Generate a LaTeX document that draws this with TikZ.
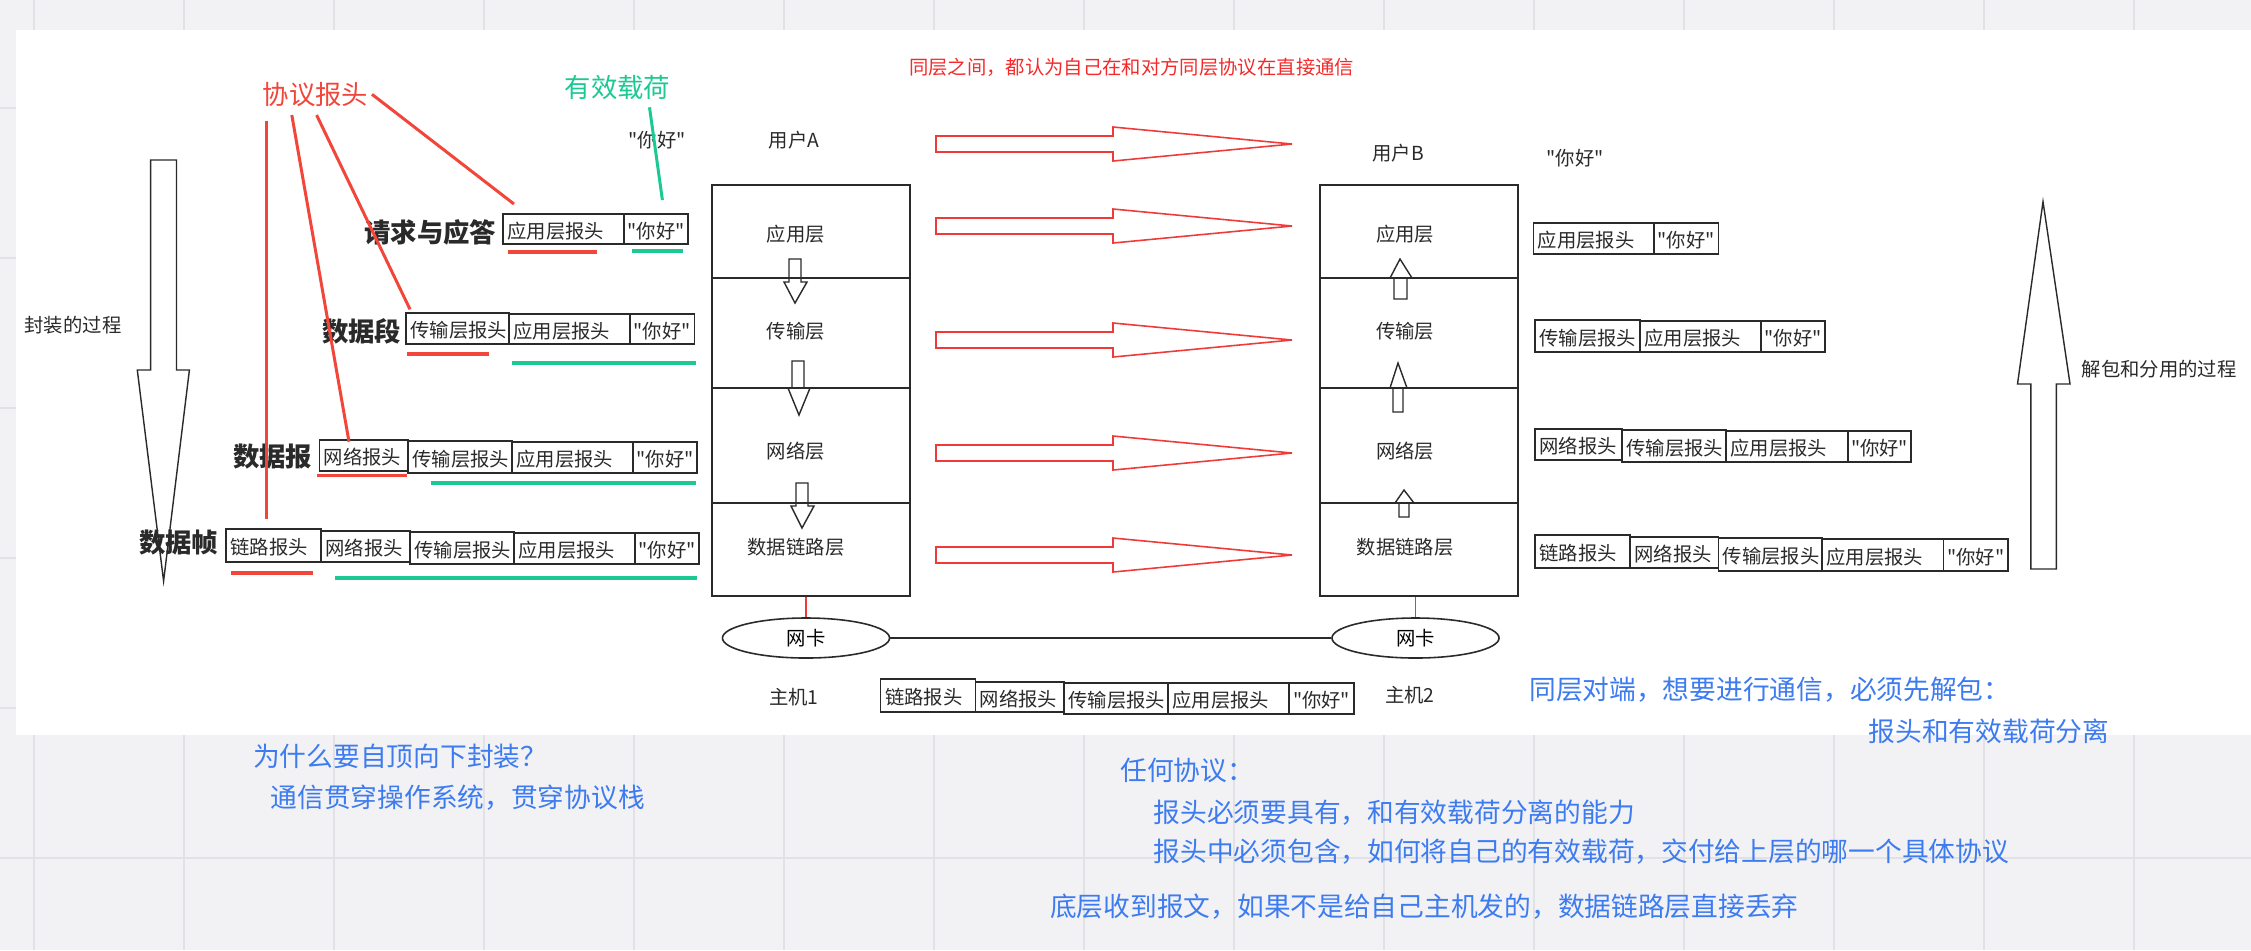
\documentclass[tikz,border=0pt]{standalone}
\usepackage{fontspec}
\newfontfamily\cjk{Noto Sans CJK SC}
\usetikzlibrary{fit,shapes.geometric}
\definecolor{bg}{HTML}{F2F2F4}
\definecolor{gridc}{HTML}{E2E2E6}
\definecolor{hdrred}{HTML}{F2463A}
\definecolor{payg}{HTML}{1CC993}
\definecolor{noteblue}{HTML}{3D7BF0}
\definecolor{titlered}{HTML}{F52A2A}
\definecolor{arrred}{HTML}{F03A3A}
\definecolor{ink}{HTML}{2A2A2A}
\tikzset{
  every node/.style={font=\cjk},
  small/.style={font=\cjk\fontsize{5.5pt}{6pt}\selectfont, inner sep=0pt, text=ink},
  rowlabel/.style={font=\cjk\bfseries\fontsize{7.5pt}{8pt}\selectfont, inner sep=0pt, text=ink, anchor=east},
  note/.style={font=\cjk\fontsize{7.6pt}{8pt}\selectfont, inner sep=0pt, text=noteblue, anchor=west},
  layerbox/.style={draw=ink, line width=0.45pt, inner sep=0pt},
  pkbox/.style={draw=ink, line width=0.45pt, inner sep=0pt},
  nic/.style={draw=ink, line width=0.45pt, ellipse, minimum width=1.67cm, minimum height=0.40cm, inner sep=0pt, font=\cjk\fontsize{5.5pt}{6pt}\selectfont},
  hollow/.style={draw=ink, line width=0.4pt},
  peer/.style={draw=arrred, line width=0.45pt},
  leader/.style={draw=hdrred, line width=0.85pt},
  redul/.style={draw=hdrred, line width=1pt},
  greenul/.style={draw=payg, line width=1pt},
}
\newcommand\hbx[6]{\node[pkbox, fit={(#2,#3)(#4,#5)}] (#1) {};
  \node[small, anchor=west] (#1t) at ([xshift=0.045cm, yshift=-0.02cm]#1.west) {#6};}
\newcommand\pbx[5]{\node[pkbox, fit={(#2,#3)(#4,#5)}] (#1) {};
  \node[small] (#1t) at ([yshift=-0.02cm]#1.center) {"你好"};}
\begin{document}
\begin{tikzpicture}[x=0.01cm,y=-0.01cm]
\useasboundingbox (0,0) rectangle (2251,950);
\fill[bg] (0,0) rectangle (2251,950);
\foreach \gx in {34,184,...,2250} \draw[gridc, line width=0.6pt] (\gx,0) -- (\gx,950);
\foreach \gy in {108,258,...,950} \draw[gridc, line width=0.6pt] (0,\gy) -- (2251,\gy);
\fill[white] (16,30) rectangle (2251,735);

% title
\node[font=\cjk\fontsize{5.5pt}{6pt}\selectfont, inner sep=0pt, text=titlered] (title) at (1131.6,67) {同层之间，都认为自己在和对方同层协议在直接通信};

% stack A
\node[layerbox, fit={(712,185)(910,278)}] (A1) {};
\node[layerbox, fit={(712,278)(910,388)}] (A2) {};
\node[layerbox, fit={(712,388)(910,503)}] (A3) {};
\node[layerbox, fit={(712,503)(910,596)}] (A4) {};
\node[small] (A1l) at (796,234) {应用层};
\node[small] (A2l) at (796,331) {传输层};
\node[small] (A3l) at (796,451) {网络层};
\node[small] (A4l) at (796,547) {数据链路层};
\node[small] (userA) at (794,140) {用户A};
\node[small] (hostA) at (794,697) {主机1};

% stack B
\node[layerbox, fit={(1320,185)(1518,278)}] (B1) {};
\node[layerbox, fit={(1320,278)(1518,388)}] (B2) {};
\node[layerbox, fit={(1320,388)(1518,503)}] (B3) {};
\node[layerbox, fit={(1320,503)(1518,596)}] (B4) {};
\node[small] (B1l) at (1405,234) {应用层};
\node[small] (B2l) at (1405,331) {传输层};
\node[small] (B3l) at (1405,451) {网络层};
\node[small] (B4l) at (1405,547) {数据链路层};
\node[small] (userB) at (1398,153) {用户B};
\node[small] (hostB) at (1410,695) {主机2};

% small down arrows in A
\draw[hollow] (789,259) -- (801,259) -- (801,282) -- (807,282) -- (795,303) -- (784,282) -- (789,282) -- cycle;
\draw[hollow] (792,361) -- (804,361) -- (804,388) -- (810,388) -- (799,415) -- (788,388) -- (792,388) -- cycle;
\draw[hollow] (796,483) -- (808,483) -- (808,506) -- (814,506) -- (802,528) -- (791,506) -- (796,506) -- cycle;
% small up arrows in B
\draw[hollow] (1394,299) -- (1394,278) -- (1390,278) -- (1400,259) -- (1412,278) -- (1407,278) -- (1407,299) -- cycle;
\draw[hollow] (1393,412) -- (1393,388) -- (1390,388) -- (1398,363) -- (1407,388) -- (1403,388) -- (1403,412) -- cycle;
\draw[hollow] (1399,517) -- (1399,503) -- (1395,503) -- (1404,490) -- (1414,503) -- (1409,503) -- (1409,517) -- cycle;

% peer arrows
\foreach \cy in {144,226,340,453,555}
  \draw[peer] (936,\cy-8) -- (1113,\cy-8) -- (1113,\cy-17) -- (1292,\cy) -- (1113,\cy+17) -- (1113,\cy+8) -- (936,\cy+8) -- cycle;

% NICs
\node[nic] (nicA) at (806,638) {网卡};
\node[nic] (nicB) at (1415.5,638) {网卡};
\draw[arrred, line width=0.4pt] (A4.south -| nicA.north) -- (nicA.north);
\draw[arrred, line width=0.4pt] (B4.south -| nicB.north) -- (nicB.north);
\draw[ink, line width=0.45pt] (nicA.east) -- (nicB.west);

% quoted payloads
\node[small] (helloA) at (657,140) {"你好"};
\node[small] (helloB) at (1575,158) {"你好"};

% left packet rows
\hbx{L1a}{503}{214}{624}{244}{应用层报头}
\pbx{L1p}{624}{214}{688}{244}
\hbx{L2a}{406}{313}{509}{344}{传输层报头}
\hbx{L2b}{509}{314}{630}{344}{应用层报头}
\pbx{L2p}{630}{314}{694.5}{344}
\hbx{L3a}{319.5}{440}{408}{471}{网络报头}
\hbx{L3b}{408}{441}{512}{473}{传输层报头}
\hbx{L3c}{512}{442}{633}{473}{应用层报头}
\pbx{L3p}{633}{442}{697}{473}
\hbx{L4a}{226}{529}{321}{562}{链路报头}
\hbx{L4b}{321}{531}{410}{562}{网络报头}
\hbx{L4c}{410}{532}{514}{564}{传输层报头}
\hbx{L4d}{514}{533}{635}{564}{应用层报头}
\pbx{L4p}{635}{533}{699}{564}

% middle packet row
\hbx{M1}{880.6}{679}{975.5}{712}{链路报头}
\hbx{M2}{975.5}{682}{1064}{712}{网络报头}
\hbx{M3}{1064}{683}{1168}{714}{传输层报头}
\hbx{M4}{1168}{683}{1289}{714}{应用层报头}
\pbx{Mp}{1289}{683}{1354}{714}

% right packet rows
\hbx{R1a}{1533.5}{223}{1654}{254}{应用层报头}
\pbx{R1p}{1654}{223}{1718.5}{254}
\hbx{R2a}{1535}{320}{1640}{352}{传输层报头}
\hbx{R2b}{1640}{321}{1761}{352}{应用层报头}
\pbx{R2p}{1761}{321}{1825}{352}
\hbx{R3a}{1535}{429}{1622}{460}{网络报头}
\hbx{R3b}{1622}{430}{1726}{462}{传输层报头}
\hbx{R3c}{1726}{431}{1848}{462}{应用层报头}
\pbx{R3p}{1848}{431}{1911}{462}
\hbx{R4a}{1535}{535}{1630}{568}{链路报头}
\hbx{R4b}{1630}{537}{1718.5}{568}{网络报头}
\hbx{R4c}{1718.5}{538}{1822}{571}{传输层报头}
\hbx{R4d}{1822}{539}{1943.5}{571}{应用层报头}
\pbx{R4p}{1943.5}{539}{2008}{571}

% row labels
\node[rowlabel] (lab1) at (497,232) {请求与应答};
\node[rowlabel] (lab2) at (402,331) {数据段};
\node[rowlabel] (lab3) at (313,457) {数据报};
\node[rowlabel] (lab4) at (219,543) {数据帧};

% underlines
\draw[redul] (508,252) -- (597,252);
\draw[greenul] (632,251) -- (683,251);
\draw[redul] (407,354) -- (489,354);
\draw[greenul] (512,363) -- (695.5,363);
\draw[redul] (316.6,475.7) -- (407,475.7);
\draw[greenul] (431,483) -- (695.5,483);
\draw[redul] (230.5,573) -- (313,573);
\draw[greenul] (335,578) -- (697,578);

% header / payload callouts
\node[font=\cjk\fontsize{7.5pt}{8pt}\selectfont, inner sep=0pt, text=hdrred] (hdr) at (315.5,95) {协议报头};
\node[font=\cjk\fontsize{7.5pt}{8pt}\selectfont, inner sep=0pt, text=payg] (pay) at (617.5,87) {有效载荷};
\coordinate (h1s) at (372,94.3);  \coordinate (h1e) at (514,204);
\coordinate (h2s) at (316.6,115); \coordinate (h2e) at (410,309.3);
\coordinate (h3s) at (291.8,115); \coordinate (h3e) at (349,441.7);
\coordinate (h4s) at (266.4,120.7); \coordinate (h4e) at (266.4,519);
\draw[leader] (h1s) -- (h1e);
\draw[leader] (h2s) -- (h2e);
\draw[leader] (h3s) -- (h3e);
\draw[leader] (h4s) -- (h4e);
\coordinate (g1s) at (649.5,107.3); \coordinate (g1e) at (662.4,200);
\draw[draw=payg, line width=0.85pt] (g1s) -- (g1e);

% big process arrows
\draw[hollow] (150.7,160) -- (176.5,160) -- (176.5,370) -- (189.4,370) -- (163.6,581) -- (137.3,370) -- (150.7,370) -- cycle;
\node[small] (encap) at (73,325) {封装的过程};
\draw[hollow] (2030.8,569) -- (2030.8,384) -- (2017.5,384) -- (2043,201.7) -- (2070,384) -- (2056.3,384) -- (2056.3,569) -- cycle;
\node[small, anchor=west] (decap) at (2081,369) {解包和分用的过程};

% blue notes
\node[note] (n1) at (252.5,756) {为什么要自顶向下封装？};
\node[note] (n2) at (270,797.7) {通信贯穿操作系统，贯穿协议栈};
\node[note] (n3) at (1528.6,690) {同层对端，想要进行通信，必须先解包：};
\node[note] (n4) at (1868,731.7) {报头和有效载荷分离};
\node[note] (n5) at (1119.7,770) {任何协议：};
\node[note] (n6) at (1153,813) {报头必须要具有，和有效载荷分离的能力};
\node[note] (n7) at (1153,851.7) {报头中必须包含，如何将自己的有效载荷，交付给上层的哪一个具体协议};
\node[note] (n8) at (1049.5,907) {底层收到报文，如果不是给自己主机发的，数据链路层直接丢弃};
\end{tikzpicture}
\end{document}
